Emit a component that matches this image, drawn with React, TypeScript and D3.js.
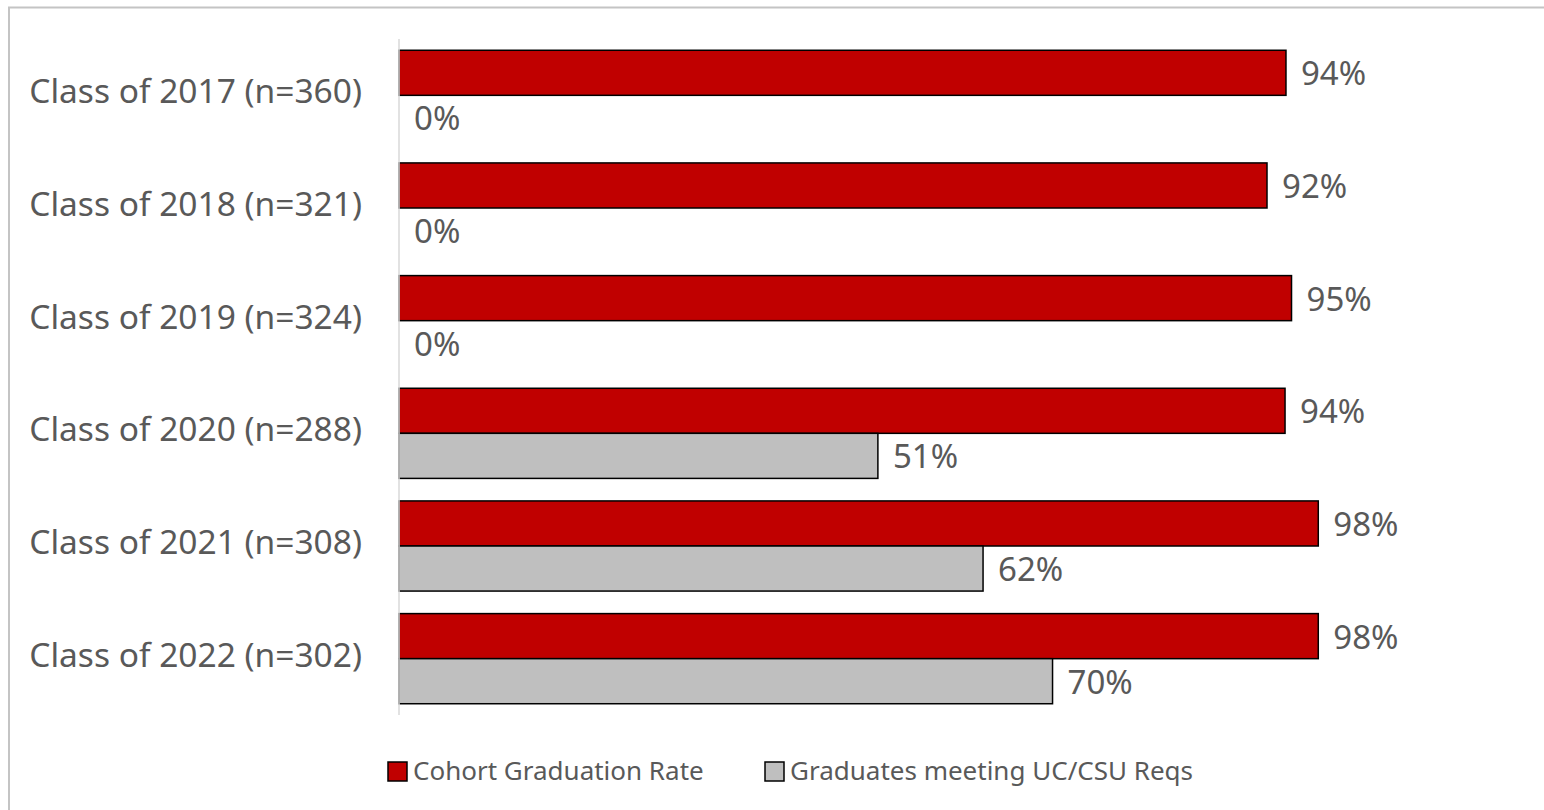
import React from "react";
import * as d3 from "d3";

const categories = [
  "Class of 2017 (n=360)",
  "Class of 2018 (n=321)",
  "Class of 2019 (n=324)",
  "Class of 2020 (n=288)",
  "Class of 2021 (n=308)",
  "Class of 2022 (n=302)",
];
const seriesNames = ["Cohort Graduation Rate", "Graduates meeting UC/CSU Reqs"];
const cohortRate = [94.46, 92.44, 95.05, 94.36, 97.9, 97.9];
const ucCsuRate = [0, 0, 0, 51.0, 62.2, 69.6];
const seriesColors = ["#c00000", "#bfbfbf"];

const W = 1544;
const H = 810;
const FONT = "'Noto Sans', 'Open Sans', sans-serif";
const TEXT = "#595959";

export default function App() {
  const x = d3.scaleLinear().domain([0, 100]).range([399, 1338]);
  const y = d3
    .scaleBand<string>()
    .domain(categories)
    .range([39, 715])
    .paddingInner(0.2)
    .paddingOuter(0.1);
  const sub = d3
    .scaleBand<string>()
    .domain(["0", "1"])
    .range([0, y.bandwidth()]);
  const fmt = (v: number) => d3.format(".0%")(v / 100);
  const series = [cohortRate, ucCsuRate];

  return (
    <svg
      width={W}
      height={H}
      style={{ position: "absolute", left: 0, top: 0, background: "#fff" }}
      fontFamily={FONT}
    >
      <rect x={9} y={7.5} width={W + 20} height={H + 20} fill="#fff" stroke="#c4c4c4" strokeWidth={2} />
      {categories.map((c, i) => (
        <g key={c}>
          <text
            x={362}
            y={(y(c) as number) + y.bandwidth() / 2 + 8}
            textAnchor="end"
            fontSize={33.5}
            fill={TEXT}
          >
            {c}
          </text>
          {series.map((s, si) => {
            const by = (y(c) as number) + (sub(String(si)) as number);
            const bh = sub.bandwidth();
            return (
              <g key={si}>
                {s[i] > 0 && (
                  <rect
                    x={x(0)}
                    y={by}
                    width={x(s[i]) - x(0)}
                    height={bh}
                    fill={seriesColors[si]}
                    stroke="#000"
                    strokeWidth={1.5}
                  />
                )}
                <text
                  x={x(s[i]) + 15}
                  y={by + bh / 2 + 12.5}
                  fontSize={33}
                  fill={TEXT}
                >
                  {fmt(s[i])}
                </text>
              </g>
            );
          })}
        </g>
      ))}
      <line x1={x(0)} x2={x(0)} y1={39} y2={715} stroke="#d9d9d9" strokeWidth={1.5} />
      {[
        { sx: 388, tx: 413 },
        { sx: 765, tx: 790 },
      ].map((l, i) => (
        <g key={i}>
          <rect x={l.sx} y={762} width={19} height={19} fill={seriesColors[i]} stroke="#000" strokeWidth={1.5} />
          <text x={l.tx} y={780} fontSize={26} fill={TEXT}>
            {seriesNames[i]}
          </text>
        </g>
      ))}
    </svg>
  );
}
